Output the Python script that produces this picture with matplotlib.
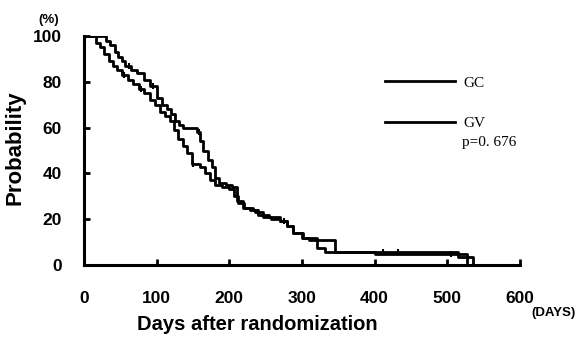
import numpy as np
import matplotlib
matplotlib.use("Agg")
import matplotlib.pyplot as plt

# Kaplan-Meier step data (days, % surviving)
days_gc = [0, 16, 22, 28, 34, 40, 46, 52, 60, 67, 75, 83, 91, 98, 105, 112, 118,
           124, 130, 136, 142, 148, 160, 166, 173, 180, 190, 200, 206, 212, 220,
           228, 236, 246, 258, 270, 279, 288, 300, 310, 345, 515, 535]
surv_gc = [100, 97, 95, 92, 89, 87, 85, 83, 81, 79, 77, 75, 72, 70, 67, 65, 63,
           59, 55, 52, 49, 44, 43, 40, 37, 35, 34, 33, 30, 27, 25,
           24, 23, 21, 20, 19, 17, 14, 12, 11, 5.5, 3.5, 0]

days_gv = [0, 30, 36, 42, 47, 52, 57, 65, 73, 82, 91, 100, 107, 114, 120, 125,
           131, 136, 155, 160, 164, 170, 176, 180, 186, 195, 204, 210, 219, 233,
           240, 255, 270, 279, 288, 301, 320, 332, 400, 527]
surv_gv = [100, 98, 96, 93, 91, 89, 87, 85, 84, 81, 78, 73, 70, 68, 66, 63,
           61, 60, 58, 54, 50, 46, 43, 38, 36, 35, 34, 28, 25, 24,
           22, 21, 19, 17, 14, 12, 7.5, 5.5, 5, 0]

# censored observations (days)
cens_gc = [55, 78, 150, 240, 411, 432]
cens_gv = [62, 95, 158, 275, 505]

x_ticks = [0, 100, 200, 300, 400, 500, 600]
y_ticks = [0, 20, 40, 60, 80, 100]

bold_font = "Liberation Sans"
serif_font = "Liberation Serif"

fig = plt.figure(figsize=(5.85, 3.41), dpi=100)
ax = fig.add_axes([84 / 585, 1 - 265 / 341, 436 / 585, 229 / 341])

for d, s, c in [(days_gc, surv_gc, cens_gc), (days_gv, surv_gv, cens_gv)]:
    ax.step(d, s, where="post", color="black", linewidth=2)
    idx = np.searchsorted(d, c, side="right") - 1
    ax.plot(c, np.array(s)[idx], linestyle="none", marker="|",
            markersize=5, markeredgewidth=1.5, color="black")

ax.set_xlim(0, 600)
ax.set_ylim(0, 100)
ax.set_xticks(x_ticks)
ax.set_yticks(y_ticks)
ax.set_xticklabels([str(v) for v in x_ticks], fontfamily=bold_font,
                   fontweight="bold", fontsize=12.5)
ax.set_yticklabels([str(v) for v in y_ticks], fontfamily=bold_font,
                   fontweight="bold", fontsize=12.5)
ax.tick_params(axis="x", direction="in", length=4, width=2, pad=19)
ax.tick_params(axis="y", direction="in", length=4, width=2, pad=16)
for side in ["top", "right"]:
    ax.spines[side].set_visible(False)
for side in ["left", "bottom"]:
    ax.spines[side].set_linewidth(2.2)

# legend
ax.plot([], [], color="black", linewidth=2, label="GC")
ax.plot([], [], color="black", linewidth=2, label="GV")
h, l = ax.get_legend_handles_labels()
ax.legend(h[-2:], l[-2:], loc="upper left", bbox_to_anchor=(301 / 436, 1 - 40 / 229),
          frameon=False, handlelength=4.6, handletextpad=0.55, labelspacing=1.75,
          borderpad=0, borderaxespad=0, prop={"family": serif_font, "size": 11})
fig.text(462 / 585, 1 - 142 / 341, "p=0. 676", fontfamily=serif_font,
         fontsize=11, va="center", ha="left")

fig.text(15 / 585, 1 - 148 / 341, "Probability", rotation=90, fontfamily=bold_font,
         fontweight="bold", fontsize=16, ha="center", va="center")
fig.text(257 / 585, 1 - 325 / 341, "Days after randomization", fontfamily=bold_font,
         fontweight="bold", fontsize=14.5, ha="center", va="center")
fig.text(49 / 585, 1 - 20 / 341, "(%)", fontfamily=bold_font,
         fontweight="bold", fontsize=9.5, ha="center", va="center")
fig.text(554 / 585, 1 - 313 / 341, "(DAYS)", fontfamily=bold_font,
         fontweight="bold", fontsize=9.5, ha="center", va="center")

fig.savefig("out.png", dpi=100)
